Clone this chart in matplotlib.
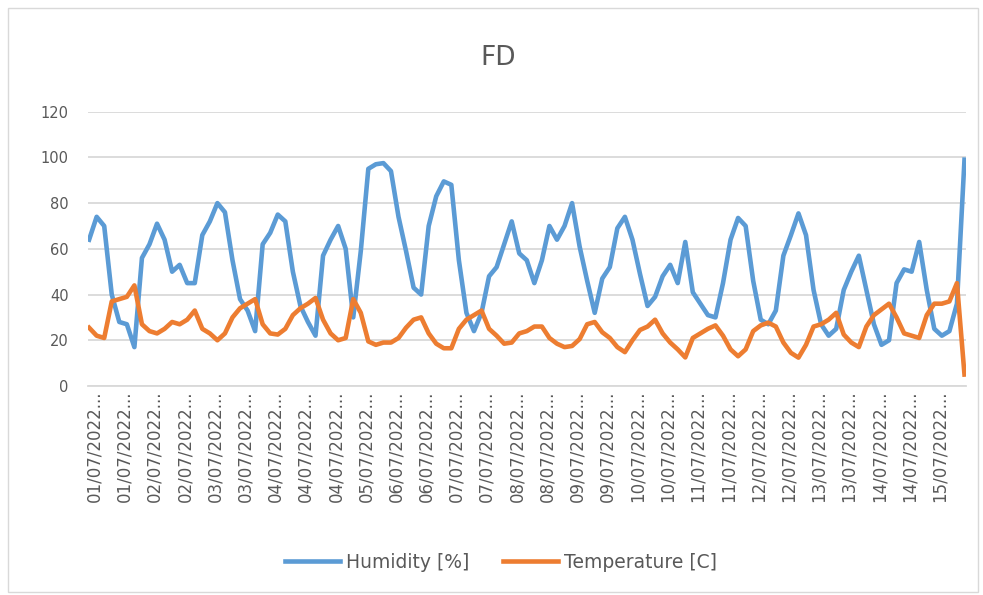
import numpy as np
import matplotlib
matplotlib.use("Agg")
import matplotlib.pyplot as plt
from matplotlib.patches import Rectangle

# values, evenly spaced samples along the category axis
humidity = [64, 74, 70, 40, 28, 27, 17, 56, 62, 71, 64, 50, 53, 45, 45, 66, 72, 80, 76, 55,
            38, 33, 24, 62, 67, 75, 72, 50, 35, 28, 22, 57, 64, 70, 60, 30, 59, 95, 97, 97.5,
            94, 74, 59, 43, 40, 70, 83, 89.5, 88, 55, 32, 24, 32, 48, 52, 62, 72, 58, 55, 45,
            55, 70, 64, 70, 80, 61, 46, 32, 47, 52, 69, 74, 64, 49, 35, 39, 48, 53, 45, 63,
            41, 36, 31, 30, 45, 64, 73.5, 70, 46, 29, 27, 33, 57, 66, 75.5, 66, 42, 27, 22, 25,
            42, 50, 57, 42, 27, 18, 20, 45, 51, 50, 63, 42, 25, 22, 24, 36, 99]
temperature = [25.5, 22, 21, 37, 38, 39, 44, 27, 24, 23, 25, 28, 27, 29, 33, 25, 23, 20, 23, 30,
               34, 36, 38, 27, 23, 22.5, 25, 31, 34, 36, 38.5, 29, 23, 20, 21, 38, 32, 19.5, 18, 19,
               19, 21, 25.5, 29, 30, 23, 18.5, 16.5, 16.5, 25, 29, 31, 33, 25, 22, 18.5, 19, 23, 24, 26,
               26, 21, 18.5, 17, 17.5, 20.5, 27, 28, 23.5, 21, 17, 14.8, 20, 24.5, 26, 29, 23, 19, 16, 12.5,
               21, 23, 25, 26.5, 22, 16, 13, 16, 24, 26.5, 27.7, 26, 19, 14.5, 12.4, 18, 26, 27, 29, 32,
               22.5, 19, 17, 26, 31, 33.5, 36, 30, 23, 22, 21, 31, 36, 36, 37, 45, 5]
tick_days = ["01", "01", "02", "02", "03", "03", "04", "04", "04", "05", "06", "06", "07", "07",
             "08", "08", "09", "09", "10", "10", "11", "11", "12", "12", "13", "13", "14", "14", "15"]
tick_labels = [d + "/07/2022..." for d in tick_days]

BLUE = "#5B9BD5"
ORANGE = "#ED7D31"
GREY = "#595959"

fig = plt.figure(figsize=(9.83, 5.95), dpi=100)
fig.patches.append(Rectangle((0.008, 0.005), 0.987, 0.982, transform=fig.transFigure,
                             fill=False, edgecolor="#D9D9D9", linewidth=1))
ax = fig.add_axes([0.0895, 0.3513, 0.8932, 0.461])

x = np.arange(len(humidity))
ax.plot(x, humidity, color=BLUE, lw=3.3, label="Humidity [%]", solid_joinstyle="round")
ax.plot(x, temperature, color=ORANGE, lw=3.3, label="Temperature [C]", solid_joinstyle="round")

ax.set_ylim(0, 120)
ax.set_yticks(range(0, 121, 20))
ax.set_xlim(-0.15, 116.2)
ax.set_xticks(np.arange(len(tick_labels)) * 4 + 0.7)
ax.set_xticklabels(tick_labels, rotation=90, fontsize=12, color=GREY)
ax.tick_params(axis="x", length=0, pad=3)
ax.tick_params(axis="y", length=0, pad=14, labelsize=10.5, labelcolor=GREY)

ax.grid(axis="y", color="#D9D9D9", lw=1.3)
ax.set_axisbelow(True)
for side in ["top", "right", "left"]:
    ax.spines[side].set_visible(False)
ax.spines["bottom"].set_color("#D9D9D9")
ax.spines["bottom"].set_linewidth(1.3)

fig.text(0.507, 0.903, "FD", ha="center", va="center", fontsize=19, color=GREY)

fig.legend(loc="center", bbox_to_anchor=(0.51, 0.055), ncol=2, frameon=False,
           fontsize=13.5, labelcolor=GREY, handlelength=2.9, columnspacing=1.8, handletextpad=0.35)

fig.savefig("out.png", dpi=100)
